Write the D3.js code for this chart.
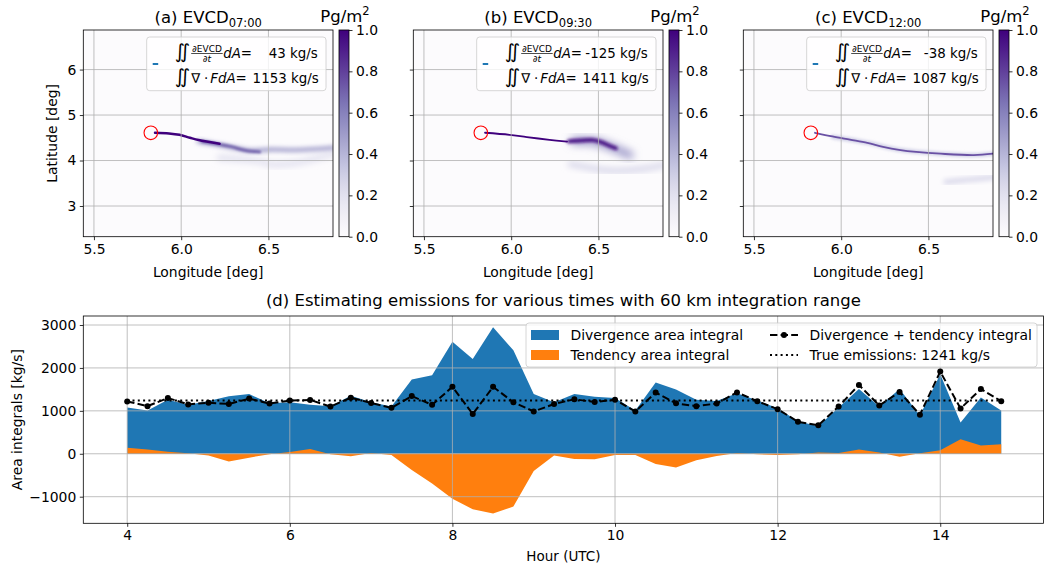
<!DOCTYPE html>
<html>
<head>
<meta charset="utf-8">
<script src="https://cdn.jsdelivr.net/npm/d3@7"></script>
<style>
  body { margin: 0; background: #fff; }
  svg { font-family: "DejaVu Sans", sans-serif; }
</style>
</head>
<body>
<svg id="fig" width="1044" height="569"></svg>
<script>
// ---- data ----
const panelLabels = ['(a)', '(b)', '(c)'];
const panelTimes = ['07:00', '09:30', '12:00'];
const tendencyIntegrals = [43, -125, -38];
const divergenceIntegrals = [1153, 1411, 1087];
const sourceLocation = [5.826, 4.61];   // lon, lat
const lonTicks = [5.5, 6.0, 6.5];
const latTicks = [3, 4, 5, 6];
const cbarTicks = [0.0, 0.2, 0.4, 0.6, 0.8, 1.0];

// plume strands: points [lon, lat], concentration (Pg/m2), spread (deg lat)
const plumeA = [
    { pts: [[6.22, 4.06], [6.45, 3.98], [6.51, 3.92], [6.66, 3.95], [6.87, 4.15]], value: 0.2, spread: 0.13 },
    { pts: [[6.10, 4.42], [6.25, 4.32], [6.40, 4.22], [6.51, 4.24], [6.66, 4.23], [6.87, 4.28]], value: 0.45, spread: 0.1 },
    { pts: [[6.12, 4.42], [6.28, 4.31], [6.37, 4.22], [6.45, 4.19]], value: 0.7, spread: 0.065 },
    { pts: [[5.85, 4.61], [5.93, 4.595], [5.99, 4.565], [6.05, 4.50], [6.10, 4.45], [6.22, 4.37]], value: 1.0, spread: 0.055 }
];
const plumeB = [
    { pts: [[6.34, 3.92], [6.57, 3.78], [6.76, 3.82], [6.87, 3.90]], value: 0.25, spread: 0.13 },
    { pts: [[6.36, 4.43], [6.47, 4.42], [6.55, 4.33], [6.62, 4.22], [6.68, 4.12]], value: 0.55, spread: 0.16 },
    { pts: [[6.33, 4.42], [6.40, 4.44], [6.47, 4.45], [6.52, 4.40], [6.56, 4.33], [6.60, 4.27]], value: 0.95, spread: 0.085 },
    { pts: [[5.85, 4.61], [5.99, 4.565], [6.09, 4.515], [6.22, 4.455], [6.32, 4.415]], value: 1.0, spread: 0.04 }
];
const plumeC = [
    { pts: [[6.60, 3.53], [6.73, 3.58], [6.87, 3.63]], value: 0.25, spread: 0.11 },
    { pts: [[5.95, 4.52], [6.15, 4.39], [6.34, 4.23], [6.57, 4.15], [6.76, 4.12], [6.87, 4.15]], value: 0.3, spread: 0.09 },
    { pts: [[5.85, 4.61], [5.95, 4.53], [6.05, 4.46], [6.15, 4.39], [6.24, 4.30], [6.34, 4.23], [6.43, 4.19], [6.57, 4.15], [6.76, 4.12], [6.87, 4.15]], value: 0.75, spread: 0.04 }
];
const plumes = [plumeA, plumeB, plumeC];

const hours = [4, 4.25, 4.5, 4.75, 5, 5.25, 5.5, 5.75, 6, 6.25, 6.5, 6.75, 7, 7.25, 7.5, 7.75,
    8, 8.25, 8.5, 8.75, 9, 9.25, 9.5, 9.75, 10, 10.25, 10.5, 10.75, 11, 11.25, 11.5, 11.75,
    12, 12.25, 12.5, 12.75, 13, 13.25, 13.5, 13.75, 14, 14.25, 14.5, 14.75];
const divergence = [1080, 1010, 1260, 1140, 1230, 1340, 1390, 1180, 1200, 1140, 1110, 1350, 1200, 1100, 1730, 1830,
    2610, 2210, 2950, 2410, 1390, 1200, 1390, 1330, 1300, 1010, 1660, 1500, 1260, 1230, 1410, 1240,
    1060, 760, 640, 1080, 1510, 1100, 1510, 890, 1850, 730, 1310, 1010];
const tendency = [140, 100, 50, 10, -40, -180, -90, -10, 40, 110, -10, -60, 20, -30, -380, -690,
    -1050, -1290, -1390, -1230, -400, -40, -120, -130, -30, -30, -240, -320, -150, -50, 20, -10,
    -30, -10, 30, 20, 100, 30, -70, 10, 80, 340, 190, 220];
const divPlusTend = [1220, 1110, 1300, 1150, 1190, 1160, 1285, 1170, 1240, 1255, 1100, 1305, 1185, 1070, 1345, 1140,
    1560, 925, 1560, 1200, 985, 1160, 1270, 1205, 1260, 985, 1425, 1175, 1110, 1170, 1430, 1225,
    1040, 745, 665, 1100, 1605, 1125, 1440, 910, 1915, 1055, 1510, 1225];
const trueEmission = 1241;
const hourTicks = [4, 6, 8, 10, 12, 14];
const areaTicks = [-1000, 0, 1000, 2000, 3000];

// ---- drawing ----
const svg = d3.select('#fig');
const defs = svg.append('defs');
const gridColor = '#b0b0b0';
const purples = d3.scaleSequential(d3.interpolatePurples).domain([0, 1]);
const tickFont = 13.9;

const panelW = 249.7, panelH = 206.7, panelTop = 30;
const panelLefts = [83.3, 413.3, 743.3];

const grad = defs.append('linearGradient').attr('id', 'cbar')
    .attr('x1', 0).attr('y1', 1).attr('x2', 0).attr('y2', 0);
d3.range(0, 1.0001, 0.05).forEach(t => {
    grad.append('stop').attr('offset', t).attr('stop-color', purples(t));
});

let filterId = 0;
function blurFilter(sd) {
    const id = 'blur' + (filterId++);
    defs.append('filter').attr('id', id)
        .attr('x', '-50%').attr('y', '-50%').attr('width', '200%').attr('height', '200%')
        .append('feGaussianBlur').attr('stdDeviation', sd);
    return id;
}

panelLefts.forEach((x0, p) => {
    const x = d3.scaleLinear().domain([5.439, 6.87]).range([x0, x0 + panelW]);
    const y = d3.scaleLinear().domain([2.325, 6.87]).range([panelTop + panelH, panelTop]);
    const g = svg.append('g');

    defs.append('clipPath').attr('id', 'clip' + p)
        .append('rect').attr('x', x0).attr('y', panelTop).attr('width', panelW).attr('height', panelH);

    g.append('rect').attr('x', x0).attr('y', panelTop).attr('width', panelW).attr('height', panelH)
        .attr('fill', purples(0));

    const plot = g.append('g').attr('clip-path', `url(#clip${p})`);
    const line = d3.line().x(d => x(d[0])).y(d => y(d[1])).curve(d3.curveCatmullRom);
    const pxPerDeg = y(0) - y(1);
    plumes[p].forEach(s => {
        const path = plot.append('path')
            .attr('d', line(s.pts))
            .attr('fill', 'none')
            .attr('stroke', purples(s.value))
            .attr('stroke-width', s.spread * pxPerDeg)
            .attr('stroke-linecap', 'round')
            .attr('stroke-linejoin', 'round');
        const sd = Math.max(0, s.spread - 0.04) * pxPerDeg * 0.8;
        if (sd > 0.1) path.attr('filter', `url(#${blurFilter(sd)})`);
    });

    // grid
    plot.selectAll('.gx').data(lonTicks).join('line')
        .attr('x1', d => x(d)).attr('x2', d => x(d)).attr('y1', panelTop).attr('y2', panelTop + panelH)
        .attr('stroke', gridColor).attr('stroke-width', 0.8);
    plot.selectAll('.gy').data(latTicks).join('line')
        .attr('y1', d => y(d)).attr('y2', d => y(d)).attr('x1', x0).attr('x2', x0 + panelW)
        .attr('stroke', gridColor).attr('stroke-width', 0.8);

    // source marker
    g.append('circle').attr('cx', x(sourceLocation[0])).attr('cy', y(sourceLocation[1])).attr('r', 6.8)
        .attr('fill', 'none').attr('stroke', 'red').attr('stroke-width', 1.1);

    // axes
    const xAxis = d3.axisBottom(x).tickValues(lonTicks).tickFormat(d3.format('.1f')).tickSize(3.5).tickPadding(3.5);
    const yAxis = d3.axisLeft(y).tickValues(latTicks).tickFormat(p === 0 ? d3.format('d') : () => '').tickSize(3.5).tickPadding(3.5);
    g.append('g').attr('transform', `translate(0,${panelTop + panelH})`).call(xAxis);
    g.append('g').attr('transform', `translate(${x0},0)`).call(yAxis);
    g.selectAll('.tick text').attr('font-size', tickFont).attr('font-family', 'DejaVu Sans').attr('fill', '#000');
    g.selectAll('.domain').remove();
    g.selectAll('.tick line').attr('stroke', '#000').attr('stroke-width', 0.8);
    g.append('rect').attr('x', x0).attr('y', panelTop).attr('width', panelW).attr('height', panelH)
        .attr('fill', 'none').attr('stroke', '#000').attr('stroke-width', 0.8);

    g.append('text').attr('x', x0 + panelW / 2).attr('y', 277).attr('text-anchor', 'middle')
        .attr('font-size', 13.9).text('Longitude [deg]');
    if (p === 0) {
        g.append('text').attr('transform', `translate(57,${panelTop + panelH / 2}) rotate(-90)`)
            .attr('text-anchor', 'middle').attr('font-size', 13.9).text('Latitude [deg]');
    }

    // title
    const title = g.append('text').attr('x', x0 + panelW / 2).attr('y', 23).attr('text-anchor', 'middle')
        .attr('font-size', 16.5);
    title.append('tspan').text(`${panelLabels[p]} EVCD`);
    title.append('tspan').attr('font-size', 11.5).attr('dy', 4).text(panelTimes[p]);

    // legend box
    const lx = x0 + 63.4, ly = 37;
    const lg = g.append('g');
    lg.append('rect').attr('x', lx).attr('y', ly).attr('width', 179.3).attr('height', 53.7).attr('rx', 3)
        .attr('fill', 'white').attr('fill-opacity', 0.8).attr('stroke', '#cccccc').attr('stroke-width', 0.8);
    lg.append('line').attr('x1', lx + 6).attr('x2', lx + 11.5).attr('y1', ly + 27).attr('y2', ly + 27)
        .attr('stroke', '#1f77b4').attr('stroke-width', 2);
    const fs = 13.4;
    lg.append('text').attr('x', lx + 28).attr('y', ly + 21).attr('font-size', 19.5).text('∬');
    lg.append('text').attr('x', lx + 60.3).attr('y', ly + 14.5).attr('font-size', 9).attr('text-anchor', 'middle').text('∂EVCD');
    lg.append('line').attr('x1', lx + 44.5).attr('x2', lx + 76).attr('y1', ly + 16.5).attr('y2', ly + 16.5)
        .attr('stroke', '#000').attr('stroke-width', 0.7);
    const den = lg.append('text').attr('x', lx + 60.3).attr('y', ly + 24.5).attr('font-size', 9).attr('text-anchor', 'middle');
    den.append('tspan').text('∂');
    den.append('tspan').attr('font-style', 'italic').text('t');
    const t1 = lg.append('text').attr('x', lx + 76.5).attr('y', ly + 21).attr('font-size', fs);
    t1.append('tspan').attr('font-style', 'italic').text('dA');
    t1.append('tspan').text('=');
    lg.append('text').attr('x', lx + 171).attr('y', ly + 21).attr('font-size', fs).attr('text-anchor', 'end')
        .text(`${tendencyIntegrals[p]} kg/s`);
    lg.append('text').attr('x', lx + 28).attr('y', ly + 45.5).attr('font-size', 19.5).text('∬');
    lg.append('text').attr('x', lx + 44.5).attr('y', ly + 45.5).attr('font-size', fs).text('∇');
    lg.append('text').attr('x', lx + 59.5).attr('y', ly + 45.5).attr('font-size', fs).attr('text-anchor', 'middle').text('·');
    const t2 = lg.append('text').attr('x', lx + 63.5).attr('y', ly + 45.5).attr('font-size', fs);
    t2.append('tspan').attr('font-style', 'italic').text('FdA');
    t2.append('tspan').text('=');
    lg.append('text').attr('x', lx + 172).attr('y', ly + 45.5).attr('font-size', fs).attr('text-anchor', 'end')
        .text(`${divergenceIntegrals[p]} kg/s`);

    // colorbar
    const cx0 = x0 + 255.7, cw = 10;
    const c = d3.scaleLinear().domain([0, 1]).range([panelTop + panelH, panelTop]);
    g.append('rect').attr('x', cx0).attr('y', panelTop).attr('width', cw).attr('height', panelH)
        .attr('fill', 'url(#cbar)').attr('stroke', '#000').attr('stroke-width', 0.8);
    const cAxis = d3.axisRight(c).tickValues(cbarTicks).tickFormat(d3.format('.1f')).tickSize(3.5).tickPadding(3.5);
    const cg = g.append('g').attr('transform', `translate(${cx0 + cw},0)`).call(cAxis);
    cg.select('.domain').remove();
    cg.selectAll('.tick text').attr('font-size', tickFont).attr('font-family', 'DejaVu Sans').attr('fill', '#000');
    cg.selectAll('.tick line').attr('stroke', '#000').attr('stroke-width', 0.8);
    const cl = g.append('text').attr('x', cx0 + cw / 2 + 1).attr('y', 22).attr('text-anchor', 'middle').attr('font-size', 16.5);
    cl.append('tspan').text('Pg/m');
    cl.append('tspan').attr('font-size', 11.5).attr('dy', -7).text('2');
});

// ---- bottom panel ----
const bx0 = 83.3, bx1 = 1043.5, by0 = 316, by1 = 523.3;
const x = d3.scaleLinear().domain([3.46, 15.27]).range([bx0, bx1]);
const y = d3.scaleLinear().domain([-1620, 3210]).range([by1, by0]);
const b = svg.append('g');
const idx = d3.range(hours.length);

b.append('path').datum(idx)
    .attr('d', d3.area().x(i => x(hours[i])).y0(y(0)).y1(i => y(divergence[i])))
    .attr('fill', '#1f77b4');
b.append('path').datum(idx)
    .attr('d', d3.area().x(i => x(hours[i])).y0(y(0)).y1(i => y(tendency[i])))
    .attr('fill', '#ff7f0e');

b.selectAll('.bgx').data(hourTicks).join('line')
    .attr('x1', d => x(d)).attr('x2', d => x(d)).attr('y1', by0).attr('y2', by1)
    .attr('stroke', gridColor).attr('stroke-width', 0.8);
b.selectAll('.bgy').data(areaTicks).join('line')
    .attr('y1', d => y(d)).attr('y2', d => y(d)).attr('x1', bx0).attr('x2', bx1)
    .attr('stroke', gridColor).attr('stroke-width', 0.8);

b.append('line').attr('x1', x(hours[0])).attr('x2', x(hours[hours.length - 1]))
    .attr('y1', y(trueEmission)).attr('y2', y(trueEmission))
    .attr('stroke', '#000').attr('stroke-width', 2).attr('stroke-dasharray', '2,3.3');
b.append('path').datum(idx)
    .attr('d', d3.line().x(i => x(hours[i])).y(i => y(divPlusTend[i])))
    .attr('fill', 'none').attr('stroke', '#000').attr('stroke-width', 2).attr('stroke-dasharray', '7.4,3.2');
b.selectAll('.dot').data(idx).join('circle')
    .attr('cx', i => x(hours[i])).attr('cy', i => y(divPlusTend[i])).attr('r', 3)
    .attr('fill', '#000');

const bxAxis = d3.axisBottom(x).tickValues(hourTicks).tickSize(3.5).tickPadding(3.5);
const byAxis = d3.axisLeft(y).tickValues(areaTicks).tickFormat(d => d < 0 ? '−' + Math.abs(d) : d).tickSize(3.5).tickPadding(3.5);
b.append('g').attr('transform', `translate(0,${by1})`).call(bxAxis);
b.append('g').attr('transform', `translate(${bx0},0)`).call(byAxis);
b.selectAll('.tick text').attr('font-size', tickFont).attr('font-family', 'DejaVu Sans').attr('fill', '#000');
b.selectAll('.domain').remove();
b.selectAll('.tick line').attr('stroke', '#000').attr('stroke-width', 0.8);
b.append('rect').attr('x', bx0).attr('y', by0).attr('width', bx1 - bx0).attr('height', by1 - by0)
    .attr('fill', 'none').attr('stroke', '#000').attr('stroke-width', 0.8);

b.append('text').attr('x', (bx0 + bx1) / 2).attr('y', 561).attr('text-anchor', 'middle')
    .attr('font-size', 13.5).text('Hour (UTC)');
b.append('text').attr('transform', `translate(22,${(by0 + by1) / 2}) rotate(-90)`)
    .attr('text-anchor', 'middle').attr('font-size', 13.9).text('Area integrals [kg/s]');
b.append('text').attr('x', (bx0 + bx1) / 2).attr('y', 306).attr('text-anchor', 'middle')
    .attr('font-size', 16.5).text('(d) Estimating emissions for various times with 60 km integration range');

// legend
const L = b.append('g');
L.append('rect').attr('x', 526).attr('y', 323).attr('width', 511).attr('height', 44).attr('rx', 3)
    .attr('fill', 'white').attr('fill-opacity', 0.8).attr('stroke', '#cccccc').attr('stroke-width', 0.8);
const legItems = [
    { label: 'Divergence area integral', kind: 'patch', color: '#1f77b4', x: 531, y: 335 },
    { label: 'Tendency area integral', kind: 'patch', color: '#ff7f0e', x: 531, y: 355 },
    { label: 'Divergence + tendency integral', kind: 'dashed', x: 770, y: 335 },
    { label: 'True emissions: ' + trueEmission + ' kg/s', kind: 'dotted', x: 770, y: 355 }
];
legItems.forEach(it => {
    if (it.kind === 'patch') {
        L.append('rect').attr('x', it.x).attr('y', it.y - 5).attr('width', 28).attr('height', 10).attr('fill', it.color);
    } else if (it.kind === 'dashed') {
        L.append('line').attr('x1', it.x).attr('x2', it.x + 28).attr('y1', it.y).attr('y2', it.y)
            .attr('stroke', '#000').attr('stroke-width', 2).attr('stroke-dasharray', '7.4,3.2');
        L.append('circle').attr('cx', it.x + 14).attr('cy', it.y).attr('r', 3).attr('fill', '#000');
    } else {
        L.append('line').attr('x1', it.x).attr('x2', it.x + 28).attr('y1', it.y).attr('y2', it.y)
            .attr('stroke', '#000').attr('stroke-width', 2).attr('stroke-dasharray', '2,3.3');
    }
    L.append('text').attr('x', it.x + 39.5).attr('y', it.y + 5).attr('font-size', 13.9).text(it.label);
});
</script>
</body>
</html>
